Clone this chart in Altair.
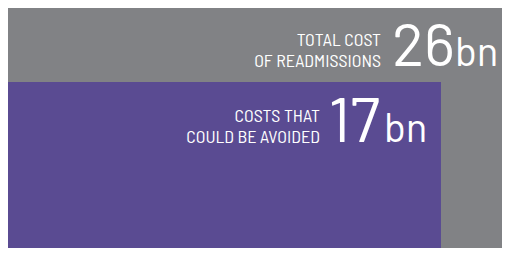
import altair as alt
import pandas as pd

# Data
boxes = ["Total cost of readmissions", "Costs that could be avoided"]
values_bn = ["26", "17"]
unit = "bn"
caption_line1 = ["TOTAL COST", "COSTS THAT"]
caption_line2 = ["OF READMISSIONS", "COULD BE AVOIDED"]
box_width_share = [1.0, 0.8765]
box_height_share = [1.0, 0.6917]
colors = ["#818285", "#5a4b92"]

df = pd.DataFrame({
    "box": boxes,
    "x0": [0.0, 0.0],
    "y0": [0.0, 0.0],
    "w": box_width_share,
    "h": box_height_share,
})

W, H = 494, 240
xs = alt.Scale(domain=[0, 1], range=[0, W], nice=False, zero=False)
ys = alt.Scale(domain=[0, 1], nice=False, zero=False)

rects = alt.Chart(df).mark_rect().encode(
    x=alt.X("x0:Q", scale=xs, axis=None),
    x2="w:Q",
    y=alt.Y("y0:Q", scale=ys, axis=None),
    y2="h:Q",
    color=alt.Color("box:N", scale=alt.Scale(domain=boxes, range=colors), legend=None),
)

CAP_FONT = "Barlow Semi Condensed, Barlow, Roboto Condensed, Roboto, sans-serif"
NUM_FONT = "Barlow, Barlow Semi Condensed, Roboto, sans-serif"

styles = [
    dict(cap_dx=-121, l1=38, l2=58.7, num_dx=-47, num_dy=58, num_size=60, unit_dx=-47, unit_size=40),
    dict(cap_dx=-121, l1=39.7, l2=61.3, num_dx=-61, num_dy=60, num_size=63, unit_dx=-57, unit_size=40),
]

layers = [rects]
for i, st in enumerate(styles):
    row = df.iloc[[i]]
    enc = dict(x=alt.X("w:Q", scale=xs, axis=None), y=alt.Y("h:Q", scale=ys, axis=None))
    common = dict(color="white", baseline="alphabetic")
    layers.append(alt.Chart(row).mark_text(align="right", dx=st["cap_dx"], dy=st["l1"], font=CAP_FONT, fontSize=18, fontWeight=400, text=caption_line1[i], **common).encode(**enc))
    layers.append(alt.Chart(row).mark_text(align="right", dx=st["cap_dx"], dy=st["l2"], font=CAP_FONT, fontSize=18, fontWeight=400, text=caption_line2[i], **common).encode(**enc))
    layers.append(alt.Chart(row).mark_text(align="right", dx=st["num_dx"], dy=st["num_dy"], font=NUM_FONT, fontSize=st["num_size"], fontWeight=400, text=values_bn[i], **common).encode(**enc))
    layers.append(alt.Chart(row).mark_text(align="left", dx=st["unit_dx"], dy=st["num_dy"], font=NUM_FONT, fontSize=st["unit_size"], fontWeight=400, text=unit, **common).encode(**enc))

chart = alt.layer(*layers).properties(width=W, height=H, padding=0).configure_view(stroke=None)

chart.save("out.html", embed_options={"renderer": "svg", "actions": False})
